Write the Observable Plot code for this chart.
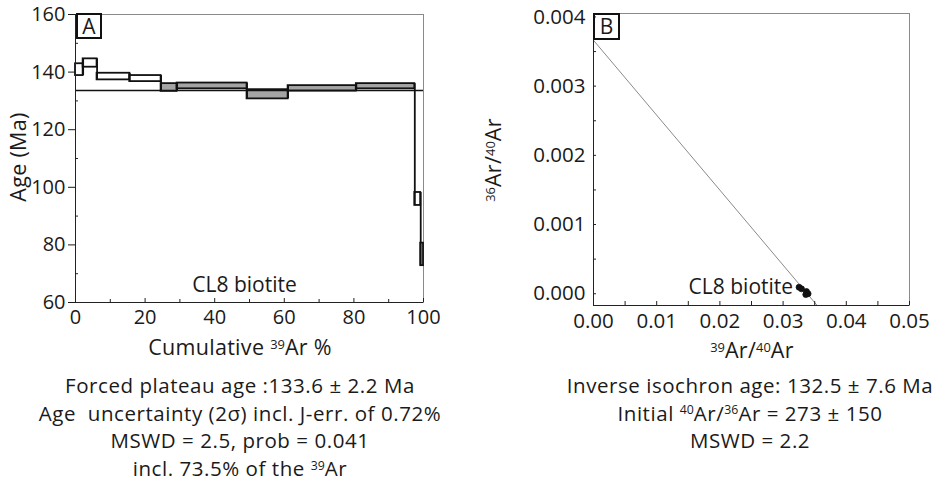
<!DOCTYPE html>
<html><head><meta charset="utf-8">
<script src="https://cdn.jsdelivr.net/npm/d3@7"></script>
<script src="https://cdn.jsdelivr.net/npm/@observablehq/plot@0.6"></script>
<style>
body{margin:0;background:#fff;}
#wrap{position:relative;width:947px;height:492px;font-family:"Open Sans",sans-serif;color:#1a1a1a;overflow:hidden;background:#fff}
#wrap svg{position:absolute;top:0;overflow:visible}
.t{position:absolute;white-space:nowrap;font-size:20.5px;letter-spacing:0.55px;line-height:1;transform:translate(-50%,-50%)}
.lab{font-size:21.5px;letter-spacing:0.3px}
.rot{transform:translate(-50%,-50%) rotate(-90deg)}
.box{position:absolute;border:2px solid #111;box-sizing:border-box;font-size:21px;line-height:1;display:flex;align-items:center;justify-content:center}
sup{font-size:0.6em;vertical-align:0;position:relative;top:-0.5em;letter-spacing:0}
</style></head><body><div id="wrap"></div>
<script>
// ---- Panel A: age spectrum ----
const stepStart = [0, 2.2, 6.2, 15.6, 24.6, 29.2, 49.3, 61.1, 80.7, 97.5, 99.2];
const stepEnd   = [2.2, 6.2, 15.6, 24.6, 29.2, 49.3, 61.1, 80.7, 97.5, 99.2, 100];
const ageLow    = [138.8, 141.7, 137.3, 136.7, 133.3, 134.2, 130.7, 133.4, 134.2, 93.7, 72.8];
const ageHigh   = [142.9, 144.6, 139.6, 138.8, 136.0, 136.2, 133.9, 135.3, 136.0, 98.2, 80.6];
const inPlateau = [false, false, false, false, true, true, true, true, true, false, false];
const plateauAge = 133.6;
const ageTicks = [60, 80, 100, 120, 140, 160];
const ageMinor = [70, 90, 110, 130, 150];
const cumTicks = [0, 20, 40, 60, 80, 100];
const cumMinor = [10, 30, 50, 70, 90];

// ---- Panel B: inverse isochron ----
const ratio39_40 = [0.03253, 0.03291, 0.03370, 0.03395, 0.03359];
const ratio36_40 = [0.0000938, 0.0000707, 0.0000317, 0.0000000, -0.0000115];
const isoYIntercept = 1 / 273;   // 36Ar/40Ar at 39Ar/40Ar = 0
const isoXIntercept = 0.03382;   // 39Ar/40Ar at 36Ar/40Ar = 0
const isoXTicks = [0, 0.01, 0.02, 0.03, 0.04, 0.05];
const isoXMinor = [0.005, 0.015, 0.025, 0.035, 0.045];
const isoYTicks = [0, 0.001, 0.002, 0.003, 0.004];
const isoYMinor = [0.0005, 0.0015, 0.0025, 0.0035];

const FONT = '"Open Sans", sans-serif';
const wrap = document.getElementById("wrap");

// Panel A
const spectrum = stepStart.map((s, i) => ({x1: s, x2: stepEnd[i], y1: ageLow[i], y2: ageHigh[i], plateau: inPlateau[i]}));
const joins = spectrum.slice(1).map((d, i) => ({
  x: d.x1,
  y1: Math.min(d.y1, spectrum[i].y1),
  y2: Math.max(d.y2, spectrum[i].y2)
}));
const A_W = 450, A_H = 360, A_ML = 75, A_MR = 27, A_MT = 14, A_MB = 58;
const A_innerH = A_H - A_MT - A_MB, A_innerW = A_W - A_ML - A_MR;
const plotA = Plot.plot({
  width: A_W, height: A_H,
  marginLeft: A_ML, marginRight: A_MR, marginTop: A_MT, marginBottom: A_MB,
  x: {domain: [0, 100]},
  y: {domain: [60, 160]},
  style: {fontFamily: FONT, fontSize: "20px", color: "#1a1a1a", background: "transparent"},
  marks: [
    Plot.frame({stroke: "#8a8a8a", strokeWidth: 1}),
    Plot.rect(spectrum.filter(d => d.plateau), {x1: "x1", x2: "x2", y1: "y1", y2: "y2", fill: "#a4a4a4", stroke: "#111", strokeWidth: 1.8}),
    Plot.rect(spectrum.filter(d => !d.plateau), {x1: "x1", x2: "x2", y1: "y1", y2: "y2", fill: "white", stroke: "#111", strokeWidth: 1.8}),
    Plot.ruleX(joins, {x: "x", y1: "y1", y2: "y2", stroke: "#111", strokeWidth: 1.8}),
    Plot.ruleY([plateauAge], {stroke: "#111", strokeWidth: 1.6}),
    Plot.ruleX([0], {stroke: "#222", strokeWidth: 1}),
    Plot.ruleY([60], {stroke: "#222", strokeWidth: 1}),
    Plot.tickX(cumTicks, {x: d => d, insetTop: A_innerH - 4, stroke: "#222"}),
    Plot.tickX(cumMinor, {x: d => d, insetTop: A_innerH - 3, stroke: "#222"}),
    Plot.tickY(ageMinor, {y: d => d, insetRight: A_innerW - 3, stroke: "#222"}),
    Plot.axisX({ticks: cumTicks, tickSize: 0, tickPadding: 7, label: null, tickFormat: d => d}),
    Plot.axisY({ticks: ageTicks, tickSize: 7, tickPadding: 3, label: null, tickFormat: d => d}),
    Plot.text(["CL8 biotite"], {frameAnchor: "bottom", lineAnchor: "bottom", dx: -5, dy: -11, fontSize: 21})
  ]
});
plotA.style.left = "0px";
wrap.appendChild(plotA);

// Panel B
const isoPts = ratio39_40.map((x, i) => ({x, y: ratio36_40[i]}));
const B_yDomain = [-0.00017, 0.00405];
const isoXEnd = isoXIntercept * (1 - B_yDomain[0] / isoYIntercept);
const isoLine = [
  {x: 0, y: isoYIntercept},
  {x: isoXEnd, y: B_yDomain[0]}
];
const B_LEFT = 450, B_W = 497, B_H = 360, B_ML = 143, B_MR = 38, B_MT = 13, B_MB = 55;
const B_innerH = B_H - B_MT - B_MB, B_innerW = B_W - B_ML - B_MR;
const plotB = Plot.plot({
  width: B_W, height: B_H,
  marginLeft: B_ML, marginRight: B_MR, marginTop: B_MT, marginBottom: B_MB,
  x: {domain: [0, 0.05]},
  y: {domain: B_yDomain},
  style: {fontFamily: FONT, fontSize: "20.5px", color: "#1a1a1a", background: "transparent"},
  marks: [
    Plot.frame({stroke: "#8a8a8a", strokeWidth: 1}),
    Plot.line(isoLine, {x: "x", y: "y", stroke: "#8a8a8a", strokeWidth: 1}),
    Plot.dot(isoPts, {x: "x", y: "y", r: 3, fill: "#111", stroke: "#111", strokeWidth: 0.8}),
    Plot.text(isoPts.slice(0, 1), {x: "x", y: "y", text: () => "CL8 biotite", textAnchor: "end", dx: -6, dy: 0, fontSize: 21}),
    Plot.ruleX([0], {stroke: "#222", strokeWidth: 1}),
    Plot.ruleY([B_yDomain[0]], {stroke: "#222", strokeWidth: 1}),
    Plot.tickX([...isoXTicks, ...isoXMinor], {x: d => d, insetTop: B_innerH - 4, stroke: "#222"}),
    Plot.tickY([...isoYTicks, ...isoYMinor], {y: d => d, insetRight: B_innerW - 3, stroke: "#222"}),
    Plot.axisX({ticks: isoXTicks, tickSize: 0, tickPadding: 8, label: null, tickFormat: d3.format(".2f")}),
    Plot.axisY({ticks: isoYTicks, tickSize: 0, tickPadding: 8, label: null, tickFormat: d3.format(".3f")})
  ]
});
plotB.style.left = B_LEFT + "px";
wrap.appendChild(plotB);

// Text overlays
function addText(html, x, y, cls) {
  const d = document.createElement("div");
  d.className = "t" + (cls ? " " + cls : "");
  d.style.left = x + "px"; d.style.top = y + "px";
  d.innerHTML = html;
  wrap.appendChild(d);
}
function addBox(label, x, y, w, h) {
  const d = document.createElement("div");
  d.className = "box";
  d.style.left = x + "px"; d.style.top = y + "px";
  d.style.width = w + "px"; d.style.height = h + "px";
  d.textContent = label;
  wrap.appendChild(d);
}
addBox("A", 76, 13, 26, 26);
addBox("B", 593, 13, 27, 27);
addText("Age (Ma)", 18, 157, "rot lab");
addText("Cumulative <sup>39</sup>Ar %", 240, 347, "lab");
addText("<sup>36</sup>Ar/<sup>40</sup>Ar", 493, 160, "rot lab");
addText("<sup>39</sup>Ar/<sup>40</sup>Ar", 752, 350, "lab");

const noteA = [
  "Forced plateau age :133.6 ± 2.2 Ma",
  "Age&nbsp; uncertainty (2σ) incl. J-err. of 0.72%",
  "MSWD = 2.5, prob = 0.041",
  "incl. 73.5% of the <sup>39</sup>Ar"
];
const noteB = [
  "Inverse isochron age: 132.5 ± 7.6 Ma",
  "Initial <sup>40</sup>Ar/<sup>36</sup>Ar = 273 ± 150",
  "MSWD = 2.2"
];
noteA.forEach((s, i) => addText(s, 240, 385 + i * 27.6));
noteB.forEach((s, i) => addText(s, 750, 385 + i * 27.6));
</script>
</body></html>
